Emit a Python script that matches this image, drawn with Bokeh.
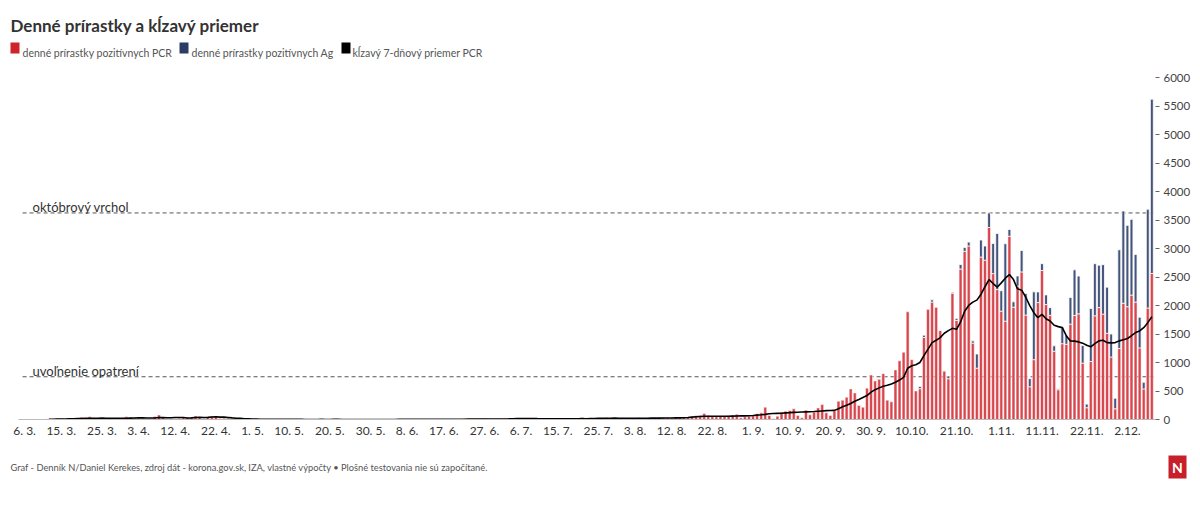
import pandas as pd
from bokeh.plotting import figure
from bokeh.models import ColumnDataSource, FixedTicker, Label, Range1d
from bokeh.core.properties import value
from bokeh.embed import file_html
from bokeh.resources import INLINE

# ---------------- data ----------------
start_date = pd.Timestamp("2020-03-06")      # first day of PCR series
ag_start_date = pd.Timestamp("2020-10-12")   # first day with Ag positives
ma_start_date = pd.Timestamp("2020-03-12")   # first day of 7-day average

pcr_mar = [1, 0, 2, 0, 4, 0, 14, 11, 11, 17, 9, 25, 18, 13, 41, 7, 48, 7, 12, 12, 10, 24, 22, 22, 22, 49]
pcr_apr = [37, 26, 24, 21, 14, 14, 52, 80, 33, 14, 19, 14, 21, 39, 32, 37, 62, 39, 17, 41, 58, 60, 16, 24, 22, 9, 6, 9, 3, 4]
pcr_may = [6, 2, 1, 3, 2, 0, 4, 1, 3, 1, 0, 2, 1, 0, 0, 2, 4, 1, 0, 1, 3, 1, 0, 0, 1, 2, 0, 1, 3, 0, 1]
pcr_jun = [2, 0, 2, 0, 3, 4, 2, 0, 6, 1, 2, 3, 0, 4, 1, 3, 8, 2, 0, 5, 3, 12, 9, 4, 9, 11, 16, 8, 3, 6]
pcr_jul = [8, 17, 20, 25, 18, 11, 21, 14, 10, 10, 13, 11, 20, 8, 19, 17, 4, 15, 15, 8, 29, 7, 23, 27, 22, 11, 31, 22, 25, 15, 17]
pcr_aug_sep = [18, 22, 14, 30, 20, 25, 27, 22, 30, 36, 30, 25, 33,
               29, 35, 41, 47, 64, 70, 105, 70, 58, 47, 58, 58, 70, 76, 93, 29, 47, 58, 64, 99, 117, 216, 70, 12,
               58, 128, 146, 158, 187, 70, 29, 163, 82, 128, 204, 263, 117, 70, 152, 321, 339, 391, 537, 467, 245]
pcr_autumn = [215, 550, 780, 675, 705, 805, 340, 310, 870, 1030, 1180, 1890, 1050, 500, 540, 1440, 1940, 2060,
              1975, 1565, 855, 715, 2215, 1740, 2640, 2950, 3045, 1340, 900, 2850, 2795, 3370, 2560, 2280, 1900,
              1725, 3215, 1970, 2340, 2590, 1832, 574, 1050, 2052, 2615, 2017, 1828, 1198, 522, 1330, 1320, 1673,
              1826, 1854, 988, 207, 1018, 1819, 1964, 1848, 1513, 1096, 187, 1245, 2040, 1979, 2183, 2061, 1256,
              536, 1956, 2562]
pcr_daily = pcr_mar + pcr_apr + pcr_may + pcr_jun + pcr_jul + pcr_aug_sep + pcr_autumn

ag_daily = [40, 40, 0, 40, 0, 0, 0, 50, 20, 35, 80, 70, 68, 40, 250, 300, 250, 255, 530, 985, 360, 1360, 120, 95,
            180, 375, 380, 143, 1190, 187, 120, 170, 135, 95, 17, 290, 160, 468, 800, 664, 310, 63, 930, 915, 745,
            870, 810, 404, 187, 1733, 1620, 1428, 1330, 836, 540, 118, 1735, 3060]

ma_spring = [3, 4, 6, 8, 9, 11, 13, 15, 16, 19, 20, 23, 22, 24, 20, 21, 22, 20, 19, 23,
             25, 27, 28, 28, 27, 26, 27, 34, 33, 31, 32, 34, 35, 34, 25, 29, 36, 38, 36, 37, 44, 48, 42, 41, 36,
             28, 21, 20, 13, 11]
ma_summer = [8, 6, 4, 4, 3, 3, 3, 2, 2, 2, 2, 2, 2, 1, 1, 1, 1, 2, 1, 1, 2, 2, 1, 1, 1, 1, 1, 1, 1, 1, 1,
             1, 1, 1, 1, 1, 2, 2, 2, 2, 2, 3, 3, 3, 3, 3, 3, 3, 3, 3, 3, 3, 5, 6, 6, 6, 7, 9, 10, 10, 9,
             9, 10, 11, 13, 15, 16, 16, 17, 17, 15, 14, 14, 14, 13, 14, 14, 13, 14, 13, 13, 15, 14, 16, 18, 19, 19,
             22, 22, 24, 22, 21,
             20, 20, 20, 21, 22, 23, 24, 24, 25, 26, 27, 27, 28]
ma_sep = [29, 32, 36, 42, 47, 52, 56, 58, 58, 58, 57, 58, 58, 60, 62, 63, 64, 66, 70, 76, 82, 90, 100, 105, 108,
          111, 116, 120, 125, 128, 131, 134, 137, 140, 145, 150, 155, 158, 160, 190, 222, 250, 280, 320, 350]
ma_autumn = [385, 420, 480, 524, 555, 582, 600, 623, 655, 692, 740, 900, 943, 960, 1000, 1120, 1234, 1350, 1390,
             1437, 1513, 1560, 1600, 1583, 1711, 1900, 2002, 2060, 2095, 2194, 2330, 2456, 2386, 2322, 2398, 2480,
             2543, 2456, 2293, 2270, 2150, 2000, 1874, 1787, 1845, 1769, 1728, 1653, 1630, 1612, 1467, 1380, 1375,
             1362, 1340, 1304, 1275, 1330, 1380, 1391, 1350, 1345, 1350, 1380, 1400, 1420, 1470, 1525, 1554, 1612,
             1700, 1804]
ma7_pcr = ma_spring + ma_summer + ma_sep + ma_autumn

tick_dates = ["2020-03-06", "2020-03-15", "2020-03-25", "2020-04-03", "2020-04-12", "2020-04-22", "2020-05-01",
              "2020-05-10", "2020-05-20", "2020-05-30", "2020-06-08", "2020-06-17", "2020-06-27", "2020-07-06",
              "2020-07-15", "2020-07-25", "2020-08-03", "2020-08-12", "2020-08-22", "2020-09-01", "2020-09-10",
              "2020-09-20", "2020-09-30", "2020-10-10", "2020-10-21", "2020-11-01", "2020-11-11", "2020-11-22",
              "2020-12-02"]
tick_labels = ["6. 3.", "15. 3.", "25. 3.", "3. 4.", "12. 4.", "22. 4.", "1. 5.", "10. 5.", "20. 5.", "30. 5.",
               "8. 6.", "17. 6.", "27. 6.", "6. 7.", "15. 7.", "25. 7.", "3. 8.", "12. 8.", "22. 8.", "1. 9.",
               "10. 9.", "20. 9.", "30. 9.", "10.10.", "21.10.", "1.11.", "11.11.", "22.11.", "2.12."]
y_ticks = [0, 500, 1000, 1500, 2000, 2500, 3000, 3500, 4000, 4500, 5000, 5500, 6000]

ref_levels = [3625, 750]
ref_names = ["októbrový vrchol", "uvoľnenie opatrení"]

series_names = ["denné prírastky pozitívnych PCR", "denné prírastky pozitívnych Ag", "kĺzavý 7-dňový priemer PCR"]
title_text = "Denné prírastky a kĺzavý priemer"
footer_text = ("Graf - Denník N/Daniel Kerekes, zdroj dát - korona.gov.sk, IZA, vlastné výpočty • "
               "Plošné testovania nie sú započítané.")
logo_text = "N"

# ---------------- derived positions ----------------
def day_of(ts):
    return (pd.Timestamp(ts) - start_date).days

x_pcr = list(range(len(pcr_daily)))
off_ag = day_of(ag_start_date)
x_ag = [off_ag + i for i in range(len(ag_daily))]
ag_bottom = [pcr_daily[x] for x in x_ag]
ag_top = [b + a for b, a in zip(ag_bottom, ag_daily)]
off_ma = day_of(ma_start_date)
x_ma = [off_ma + i for i in range(len(ma7_pcr))]
tick_x = [day_of(d) for d in tick_dates]

RED = "#d0222b"
BAR_RED = "#d8464d"
BLUE = "#2c3d63"
BAR_BLUE = "#44547a"
FONT = "Lato"
W = 1200


def blank_fig(h, y0):
    """figure whose frame covers the whole canvas; data units = page pixels (y downward)"""
    f = figure(width=W, height=h, output_backend="svg", toolbar_location=None,
               x_range=Range1d(0, W), y_range=Range1d(y0 + h, y0),
               x_axis_location=None, y_axis_location=None,
               min_border_left=0, min_border_right=0, min_border_top=0, min_border_bottom=0)
    f.outline_line_color = None
    f.grid.visible = False
    f.background_fill_color = "white"
    f.border_fill_color = "white"
    return f


# ---------------- header (title + legend) ----------------
TOP_H = 62
head = blank_fig(TOP_H, 0)
head.text(x=[10], y=[25], text=[title_text], text_font=value(FONT), text_font_size="17px",
          text_font_style="bold", text_color="#333333", text_baseline="alphabetic")
legend_left = [10, 179, 341]
legend_right = [19, 188, 350]
legend_text_x = [22, 191, 352]
head.quad(left=legend_left, right=legend_right, top=[42] * 3, bottom=[53] * 3,
          fill_color=[RED, BLUE, "black"], line_color=None)
head.text(x=legend_text_x, y=[52] * 3, text=series_names, text_font=value(FONT), text_font_size="10.5px",
          text_color="#555555", text_baseline="alphabetic")

# ---------------- main chart ----------------
MAIN_H = 378
p = figure(width=W, height=MAIN_H, output_backend="svg", toolbar_location=None,
           x_range=Range1d(-1.5, 277.9), y_range=Range1d(0, 6125),
           y_axis_location="right",
           min_border_left=18, min_border_right=45, min_border_top=8, min_border_bottom=20)
p.outline_line_color = None
p.grid.visible = False
p.background_fill_color = "white"
p.border_fill_color = "white"

p.segment(x0=[-0.5] * len(ref_levels), y0=ref_levels, x1=[277.9] * len(ref_levels), y1=ref_levels,
          line_color="#555555", line_dash="4 3", line_width=1)

src_pcr = ColumnDataSource(dict(x=x_pcr, top=pcr_daily))
p.vbar(x="x", top="top", bottom=0, width=0.72, source=src_pcr,
       fill_color=BAR_RED, line_color="white", line_width=0.5)
src_ag = ColumnDataSource(dict(x=x_ag, bottom=ag_bottom, top=ag_top))
p.vbar(x="x", top="top", bottom="bottom", width=0.72, source=src_ag,
       fill_color=BAR_BLUE, line_color="white", line_width=0.8)

src_ma = ColumnDataSource(dict(x=x_ma, y=ma7_pcr))
p.line(x="x", y="y", source=src_ma, line_color="black", line_width=1.6)

for lvl, name in zip(ref_levels, ref_names):
    p.add_layout(Label(x=1.95, y=lvl, y_offset=6, text=name, text_font=FONT, text_font_size="13px",
                       text_color="#333333", text_baseline="alphabetic"))

xa = p.xaxis[0]
xa.ticker = FixedTicker(ticks=tick_x)
xa.major_label_overrides = {x: l for x, l in zip(tick_x, tick_labels)}
xa.major_tick_line_color = None
xa.major_tick_out = 0
xa.major_tick_in = 0
xa.minor_tick_line_color = None
xa.axis_line_color = "#bbbbbb"
xa.major_label_text_font = FONT
xa.major_label_text_font_size = "12px"
xa.major_label_text_color = "#333333"
xa.major_label_standoff = 3

ya = p.yaxis[0]
ya.ticker = FixedTicker(ticks=y_ticks)
ya.axis_line_color = None
ya.major_tick_out = 4
ya.major_tick_in = 0
ya.major_tick_line_color = "#666666"
ya.minor_tick_line_color = None
ya.major_label_standoff = 4
ya.major_label_text_font = FONT
ya.major_label_text_font_size = "11.5px"
ya.major_label_text_color = "#444444"

# ---------------- footer ----------------
FOOT_Y0 = TOP_H + MAIN_H
FOOT_H = 65
foot = blank_fig(FOOT_H, FOOT_Y0)
foot.text(x=[10], y=[467], text=[footer_text], text_font=value(FONT), text_font_size="9.3px",
          text_color="#555555", text_baseline="alphabetic")
foot.quad(left=[1168], right=[1186], top=[455], bottom=[478], fill_color="#c8202a", line_color=None)
foot.text(x=[1177], y=[467], text=[logo_text], text_font=value(FONT), text_font_size="14px",
          text_font_style="bold", text_color="white", text_align="center", text_baseline="middle")

# separate roots so that Bokeh does not align the frames of the three canvases
open("out.html", "w").write(file_html([head, p, foot], INLINE))
